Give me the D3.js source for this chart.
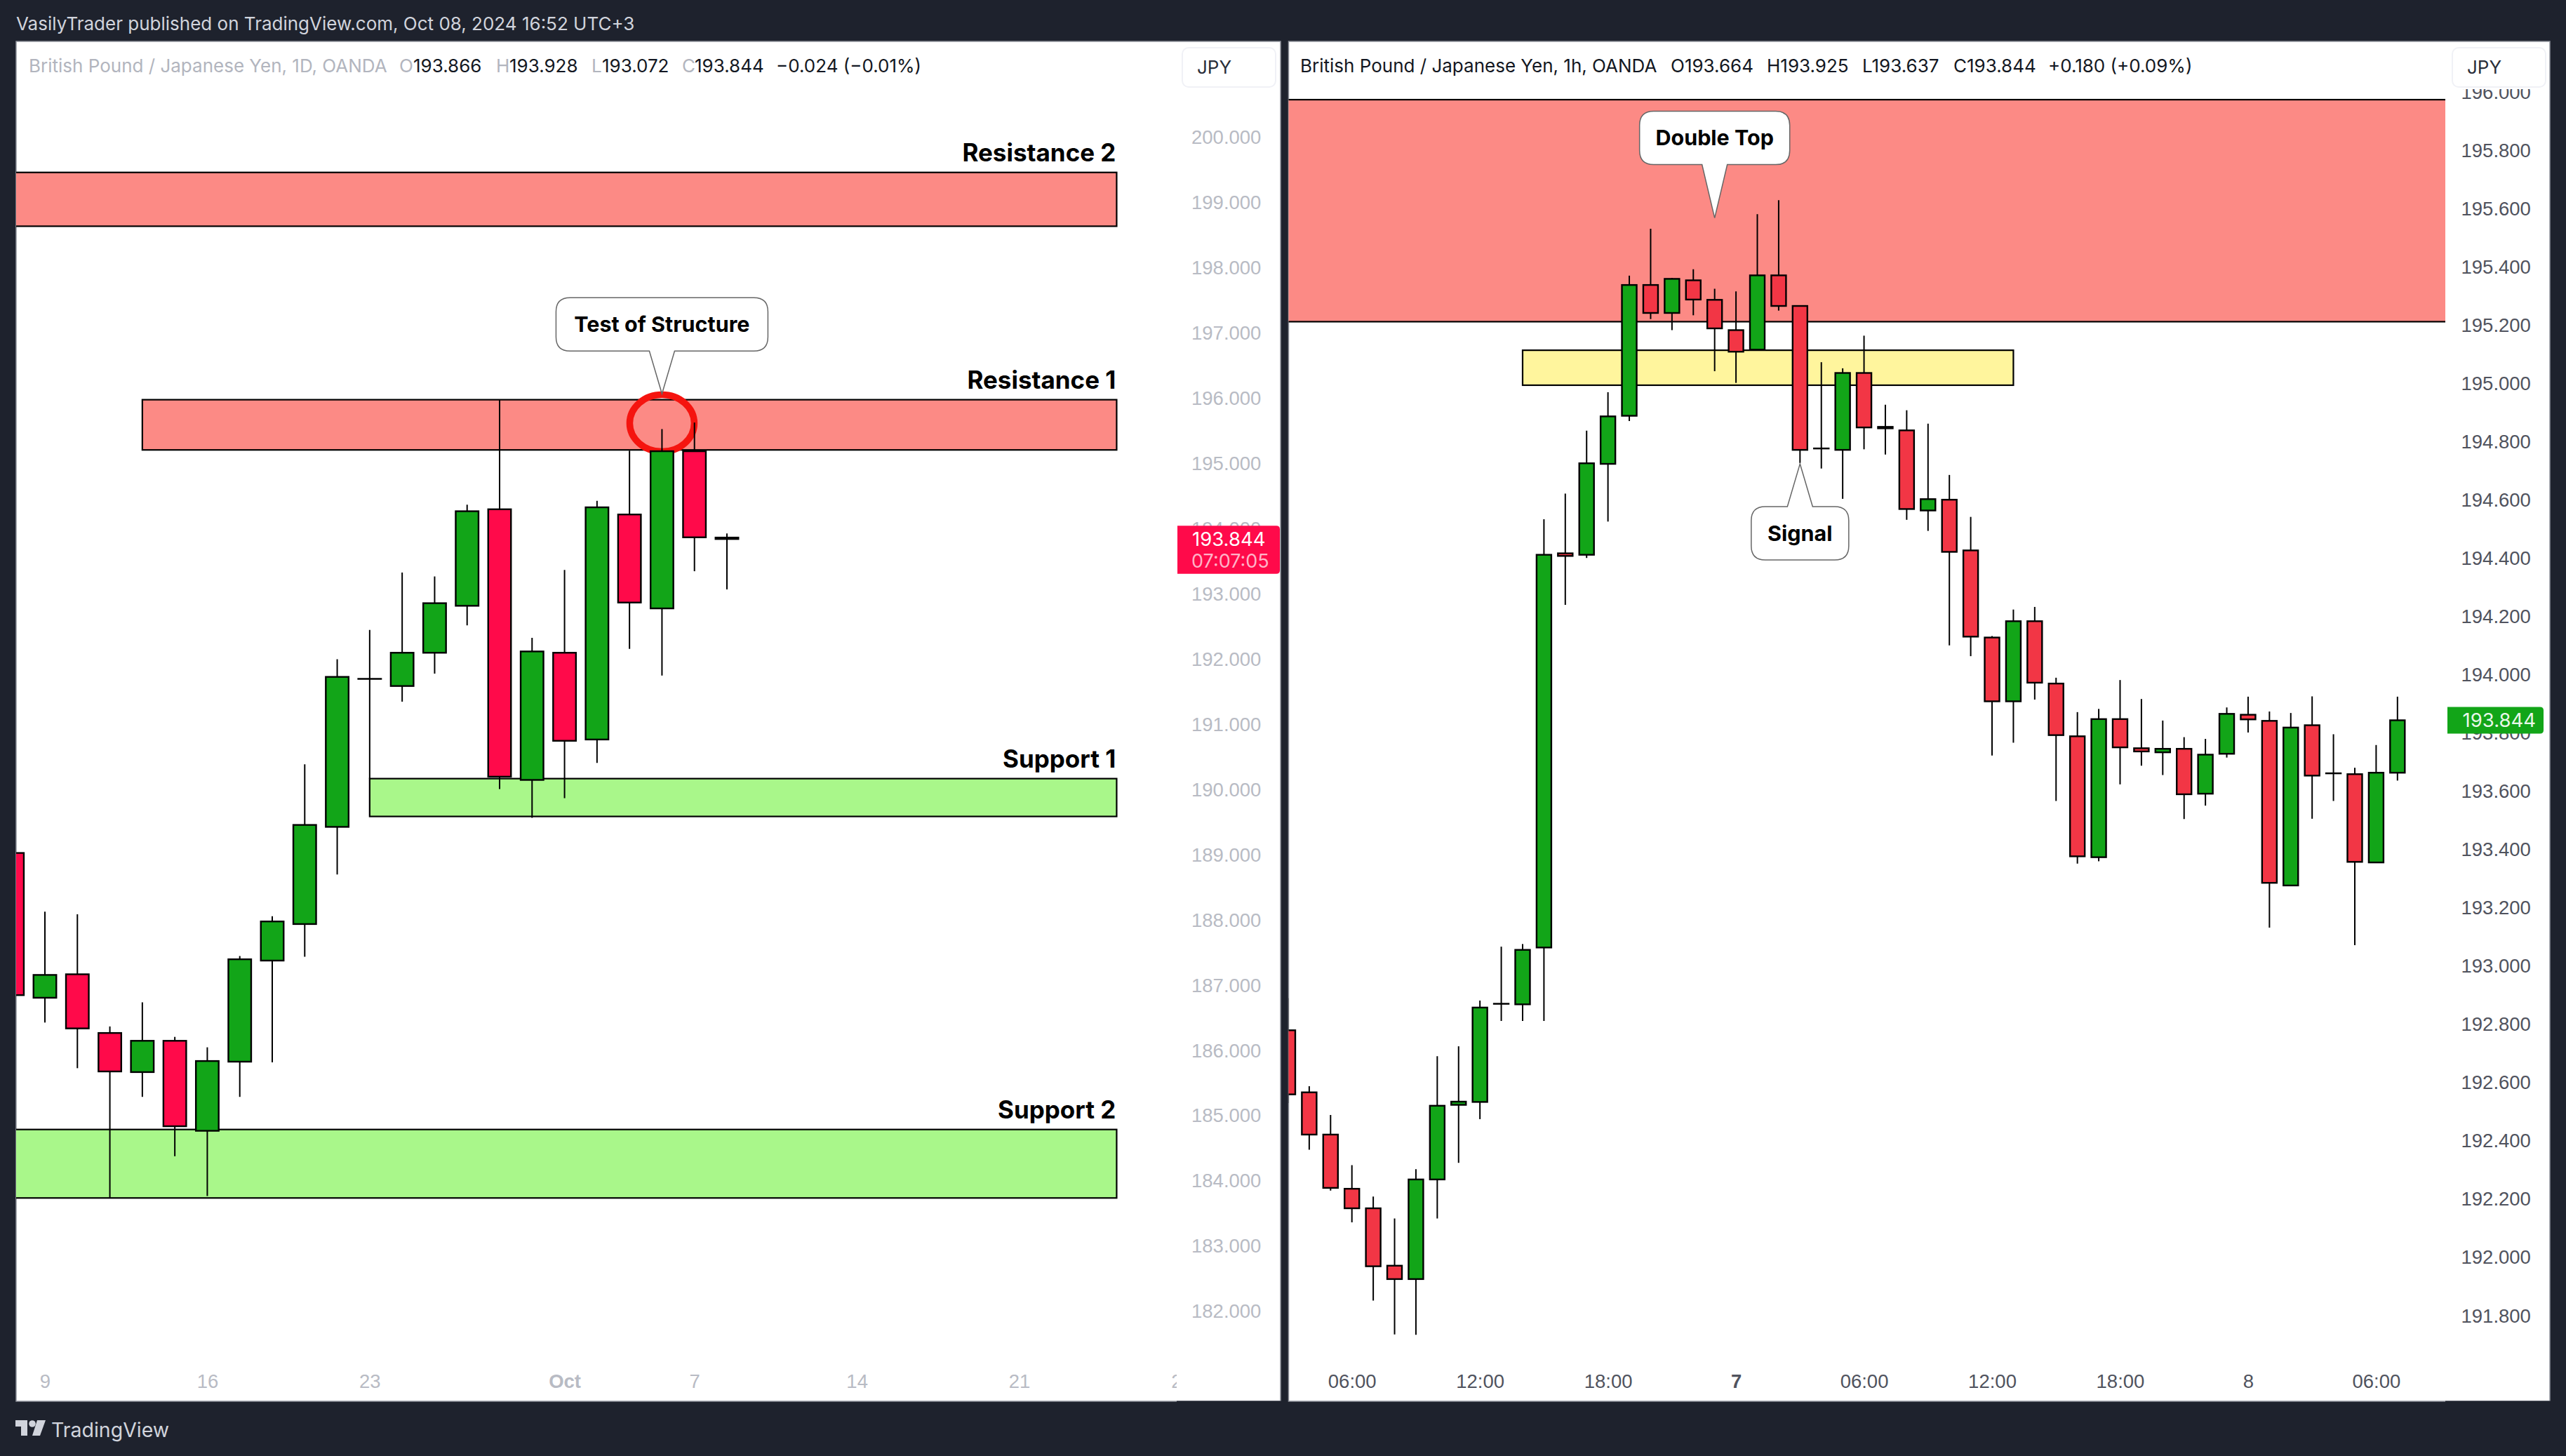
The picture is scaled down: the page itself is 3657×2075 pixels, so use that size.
<!DOCTYPE html>
<html>
<head>
<meta charset="utf-8">
<script src="https://cdn.jsdelivr.net/npm/d3@7"></script>
<style>
  html, body { margin: 0; padding: 0; background: #1e222d; overflow: hidden; }
  svg { display: block; font-family: Inter, "Noto Sans", sans-serif; }
</style>
</head>
<body>
<svg id="chart" width="3657" height="2075"></svg>
<script>
// Daily chart, session -1 is Sep 6, session 21 is Oct 8
const dailyOpen  = [189.03,186.81,187.17,186.27,185.67,186.15,184.77,185.83,187.38,187.94,189.43,191.70,191.59,192.10,192.82,194.30,190.15,192.10,190.77,194.22,192.78,195.19,193.866];
const dailyHigh  = [189.03,188.13,188.09,186.37,186.74,186.21,186.05,187.45,188.06,190.39,192.00,192.45,193.33,193.27,194.37,195.98,192.33,193.37,194.43,195.20,195.53,195.63,193.928];
const dailyLow   = [186.85,186.43,185.73,183.74,185.29,184.38,183.77,185.29,185.82,187.44,188.70,190.17,191.35,191.78,192.52,190.01,189.57,189.87,190.41,192.16,191.75,193.35,193.072];
const dailyClose = [186.85,187.16,186.34,185.68,186.15,184.84,185.84,187.40,187.98,189.46,191.73,191.70,192.10,192.86,194.27,190.20,192.12,190.75,194.33,192.87,195.19,193.87,193.844];

// Hourly chart, hour 0 is Oct 6 00:00, first candle is hour 3
const hourlyOpen  = [192.78,192.567,192.422,192.236,192.169,191.972,191.926,192.268,192.524,192.534,192.871,192.869,193.064,194.417,194.412,194.724,194.889,195.338,195.242,195.354,195.287,195.183,195.116,195.371,195.266,194.777,194.772,195.036,194.851,194.839,194.564,194.601,194.427,194.128,193.909,194.184,193.97,193.789,193.374,193.848,193.748,193.734,193.746,193.592,193.729,193.863,193.842,193.277,193.827,193.662,193.659,193.356,193.664];
const hourlyHigh  = [192.89,192.588,192.489,192.317,192.209,192.134,192.303,192.691,192.725,192.882,193.067,193.076,194.534,194.622,194.838,194.97,195.37,195.531,195.362,195.392,195.325,195.316,195.581,195.629,195.266,195.073,195.052,195.164,194.927,194.908,194.862,194.686,194.542,194.133,194.224,194.233,193.99,193.872,193.883,193.982,193.917,193.843,193.786,193.78,193.888,193.925,193.874,193.869,193.926,193.796,193.681,193.759,193.925];
const hourlyLow   = [192.53,192.37,192.23,192.121,191.852,191.736,191.735,192.134,192.325,192.475,192.812,192.812,192.812,194.24,194.401,194.526,194.871,195.221,195.183,195.234,195.042,195.002,195.116,195.25,194.727,194.708,194.604,194.774,194.756,194.532,194.494,194.101,194.064,193.723,193.767,193.915,193.567,193.352,193.36,193.624,193.688,193.656,193.505,193.551,193.716,193.802,193.132,193.277,193.506,193.567,193.072,193.356,193.637];
const hourlyClose = [192.56,192.422,192.239,192.169,191.97,191.926,192.268,192.521,192.535,192.858,192.871,193.056,194.412,194.408,194.726,194.887,195.338,195.242,195.359,195.288,195.189,195.109,195.371,195.266,194.772,194.777,195.036,194.849,194.846,194.569,194.603,194.422,194.131,193.909,194.184,193.973,193.793,193.377,193.848,193.751,193.737,193.746,193.59,193.726,193.866,193.847,193.286,193.819,193.654,193.662,193.358,193.664,193.844];

const dailyTicks = [182,183,184,185,186,187,188,189,190,191,192,193,194,195,196,197,198,199,200];
const hourlyTicks = [191.8,192,192.2,192.4,192.6,192.8,193,193.2,193.4,193.6,193.8,194,194.2,194.4,194.6,194.8,195,195.2,195.4,195.6,195.8,196];

const dailyDateTicks = [0,5,10,16,20,25,30,35];
const dailyDateLabels = ["9","16","23","Oct","7","14","21","28"];
const hourlyDateTicks = [6,12,18,24,30,36,42,48,54];
const hourlyDateLabels = ["06:00","12:00","18:00","7","06:00","12:00","18:00","8","06:00"];

// Zones: price top / bottom, first and last session
const dailyZoneNames = ["Resistance 2","Resistance 1","Support 1","Support 2"];
const dailyZoneTop = [199.465,195.98,190.17,184.79];
const dailyZoneBottom = [198.64,195.21,189.59,183.74];
const dailyZoneStart = [-5,3,10,-5];
const dailyZoneEnd = [33,33,33,33];
const dailyZoneFill = ["#fc8a85","#fc8a85","#a9f78a","#a9f78a"];

const hourlyZoneTop = [195.974,195.114];
const hourlyZoneBottom = [195.212,194.994];
const hourlyZoneStart = [-5,14];
const hourlyZoneEnd = [70,37];
const hourlyZoneFill = ["#fc8a85","#fff59d"];

const svg = d3.select("#chart");

const darkBg = "#1e222d";
const frameTop = 59, frameBottom = 1997;

const panels = [
  {
    name: "daily", left: 23, right: 1825, plotRight: 1677,
    open: dailyOpen, high: dailyHigh, low: dailyLow, close: dailyClose, firstIndex: -1,
    x: d3.scaleLinear().domain([0, 21]).range([64, 1036]),
    y: d3.scaleLinear().domain([200, 182]).range([196, 1869]),
    up: "#12a518", down: "#ff0a4a", bodyW: 32.5,
    ticks: dailyTicks, dateTicks: dailyDateTicks, dateLabels: dailyDateLabels,
    axisColor: "#b8bbc4", axisX: 1698, boldDate: "Oct",
    zones: {top: dailyZoneTop, bottom: dailyZoneBottom, start: dailyZoneStart, end: dailyZoneEnd, fill: dailyZoneFill}
  },
  {
    name: "hourly", left: 1836.5, right: 3634, plotRight: 3485,
    open: hourlyOpen, high: hourlyHigh, low: hourlyLow, close: hourlyClose, firstIndex: 3,
    x: d3.scaleLinear().domain([6, 54]).range([1926.7, 3386.4]),
    y: d3.scaleLinear().domain([194, 191.8]).range([961.7, 1875.2]),
    up: "#12a518", down: "#f23645", bodyW: 21,
    ticks: hourlyTicks, dateTicks: hourlyDateTicks, dateLabels: hourlyDateLabels,
    axisColor: "#50535e", axisX: 3507.5, boldDate: "7",
    zones: {top: hourlyZoneTop, bottom: hourlyZoneBottom, start: hourlyZoneStart, end: hourlyZoneEnd, fill: hourlyZoneFill}
  }
];

const defs = svg.append("defs");

panels.forEach(p => {
  // white frame with its thin grey edge
  svg.append("rect")
    .attr("x", p.left).attr("y", frameTop)
    .attr("width", p.right - p.left).attr("height", frameBottom - frameTop)
    .attr("fill", "#fff")
    .attr("stroke", "#8f929b")
    .attr("stroke-width", 1.5);
  // price scale part has no grey edge at the bottom
  svg.append("rect")
    .attr("x", p.plotRight).attr("y", frameBottom - 0.5)
    .attr("width", p.right - p.plotRight + 1).attr("height", 2)
    .attr("fill", darkBg);

  defs.append("clipPath").attr("id", "plot-" + p.name).append("rect")
    .attr("x", p.left).attr("y", frameTop)
    .attr("width", p.plotRight - p.left).attr("height", frameBottom - frameTop);

  defs.append("clipPath").attr("id", "scale-" + p.name).append("rect")
    .attr("x", p.plotRight).attr("y", 127)
    .attr("width", p.right - p.plotRight).attr("height", frameBottom - 127);

  defs.append("clipPath").attr("id", "time-" + p.name).append("rect")
    .attr("x", p.left).attr("y", 1900)
    .attr("width", p.plotRight - p.left).attr("height", frameBottom - 1900);

  // price axis
  const yAxis = d3.axisRight(p.y)
    .tickValues(p.ticks)
    .tickSize(0)
    .tickPadding(0)
    .tickFormat(d3.format(".3f"));

  const gy = svg.append("g")
    .attr("clip-path", `url(#scale-${p.name})`)
    .append("g")
    .attr("transform", `translate(${p.axisX},0)`)
    .attr("font-family", "Inter, sans-serif")
    .style("font-size", "27.5px")
    .style("color", p.axisColor)
    .call(yAxis);
  gy.select(".domain").remove();

  // time axis
  const xAxis = d3.axisBottom(p.x)
    .tickValues(p.dateTicks)
    .tickSize(0)
    .tickPadding(0)
    .tickFormat((d, i) => p.dateLabels[i]);

  const gx = svg.append("g")
    .attr("clip-path", `url(#time-${p.name})`)
    .append("g")
    .attr("transform", "translate(0,1958)")
    .attr("font-family", "Inter, sans-serif")
    .style("font-size", "27.5px")
    .style("color", p.axisColor)
    .call(xAxis);
  gx.select(".domain").remove();
  gx.selectAll(".tick text")
    .attr("font-weight", (d, i) => p.dateLabels[i] === p.boldDate ? 700 : 400);

  const plot = svg.append("g").attr("clip-path", `url(#plot-${p.name})`);

  // zones
  plot.append("g").selectAll("rect")
    .data(p.zones.top)
    .join("rect")
    .attr("x", (d, i) => p.x(p.zones.start[i]))
    .attr("width", (d, i) => p.x(p.zones.end[i]) - p.x(p.zones.start[i]))
    .attr("y", d => p.y(d))
    .attr("height", (d, i) => p.y(p.zones.bottom[i]) - p.y(d))
    .attr("fill", (d, i) => p.zones.fill[i])
    .attr("stroke", "#000")
    .attr("stroke-width", 2.2);

  // test of structure ring sits under the candles
  if (p.name === "daily") {
    plot.append("ellipse")
      .attr("cx", p.x(19)).attr("cy", p.y(195.62))
      .attr("rx", 46).attr("ry", 40.5)
      .attr("fill", "none")
      .attr("stroke", "#f5140f")
      .attr("stroke-width", 9.5);
  }

  // candles
  const candles = plot.append("g").selectAll("g")
    .data(p.open.map((d, i) => ({
      i: i + p.firstIndex, o: d, h: p.high[i], l: p.low[i], c: p.close[i]
    })))
    .join("g");

  candles.append("line")
    .attr("x1", d => p.x(d.i)).attr("x2", d => p.x(d.i))
    .attr("y1", d => p.y(d.h)).attr("y2", d => p.y(d.l))
    .attr("stroke", "#000").attr("stroke-width", 2);

  // a flat candle still has to draw its outline, so keep a hairline height
  candles.append("rect")
    .attr("x", d => p.x(d.i) - p.bodyW / 2)
    .attr("width", p.bodyW)
    .attr("y", d => p.y(Math.max(d.o, d.c)))
    .attr("height", d => Math.max(Math.abs(p.y(d.o) - p.y(d.c)), 0.1))
    .attr("fill", d => d.c >= d.o ? p.up : p.down)
    .attr("stroke", "#000")
    .attr("stroke-width", 2.4);
});

const daily = panels[0], hourly = panels[1];

// zone labels on the daily chart
svg.append("g").selectAll("text")
  .data(dailyZoneNames)
  .join("text")
  .attr("x", (d, i) => daily.x(dailyZoneEnd[i]) - 1)
  .attr("y", (d, i) => daily.y(dailyZoneTop[i]) - 16)
  .attr("text-anchor", "end")
  .attr("font-size", 35)
  .attr("font-weight", 700)
  .attr("fill", "#000")
  .text(d => d);

// callouts: tip position comes from the scales, box is hung from the tip
const calloutLabels = ["Test of Structure","Double Top","Signal"];
const calloutIndex = [19,23,27];
const calloutPrice = [196.07,195.568,194.724];
const calloutPanel = [daily,hourly,hourly];
const calloutWidth = [302,214,139];
const calloutDir = [-1,-1,1];

calloutLabels.forEach((label, i) => {
  const p = calloutPanel[i];
  const tx = p.x(calloutIndex[i]), ty = p.y(calloutPrice[i]);
  const w = calloutWidth[i], h = 76, r = 20, gap = 61, tail = 18, dir = calloutDir[i];
  const near = ty + dir * (i === 1 ? 76 : gap);
  const far = near + dir * h;
  const l = tx - w / 2, rt = tx + w / 2;
  const path = d3.path();
  path.moveTo(tx, ty);
  path.lineTo(tx + tail, near);
  path.lineTo(rt - r, near);
  path.quadraticCurveTo(rt, near, rt, near + dir * r);
  path.lineTo(rt, far - dir * r);
  path.quadraticCurveTo(rt, far, rt - r, far);
  path.lineTo(l + r, far);
  path.quadraticCurveTo(l, far, l, far - dir * r);
  path.lineTo(l, near + dir * r);
  path.quadraticCurveTo(l, near, l + r, near);
  path.lineTo(tx - tail, near);
  path.closePath();
  svg.append("path")
    .attr("d", path.toString())
    .attr("fill", "#fff")
    .attr("stroke", "#666")
    .attr("stroke-width", 1.5);
  svg.append("text")
    .attr("x", tx)
    .attr("y", (near + far) / 2)
    .attr("dy", "0.35em")
    .attr("text-anchor", "middle")
    .attr("font-size", 30.5)
    .attr("font-weight", 700)
    .attr("fill", "#000")
    .text(label);
});

// currency buttons
[[1685,133],[3495,133]].forEach(b => {
  svg.append("rect")
    .attr("x", b[0]).attr("y", 68).attr("width", b[1]).attr("height", 56)
    .attr("rx", 9)
    .attr("fill", "#fff").attr("stroke", "#f0f1f6").attr("stroke-width", 2);
  svg.append("text")
    .attr("x", b[0] + 21).attr("y", 96).attr("dy", "0.35em")
    .attr("font-size", 26).attr("fill", "#2a2e39")
    .text("JPY");
});

// tag with square left side and rounded right side
function tagPath(x0, x1, y0, y1) {
  const r = 5, path = d3.path();
  path.moveTo(x0, y0);
  path.lineTo(x1 - r, y0);
  path.quadraticCurveTo(x1, y0, x1, y0 + r);
  path.lineTo(x1, y1 - r);
  path.quadraticCurveTo(x1, y1, x1 - r, y1);
  path.lineTo(x0, y1);
  path.closePath();
  return path.toString();
}

// last price tags
const lastPrice = 193.844;
const tagGroup = svg.append("g");
tagGroup.append("path")
  .attr("d", tagPath(1678, 1824, daily.y(lastPrice) - 19, daily.y(lastPrice) + 49.5))
  .attr("fill", "#ff0a4a");
tagGroup.append("text")
  .attr("x", 1699).attr("y", daily.y(lastPrice)).attr("dy", "0.35em")
  .attr("font-size", 27.5).attr("fill", "#fff")
  .text(d3.format(".3f")(lastPrice));
tagGroup.append("text")
  .attr("x", 1698).attr("y", daily.y(lastPrice) + 31).attr("dy", "0.35em")
  .attr("font-size", 27).attr("fill", "#ffb3c7")
  .text("07:07:05");
tagGroup.append("path")
  .attr("d", tagPath(3488, 3625, hourly.y(lastPrice) - 19, hourly.y(lastPrice) + 19))
  .attr("fill", "#12a518");
tagGroup.append("text")
  .attr("x", 3614).attr("y", hourly.y(lastPrice)).attr("dy", "0.35em")
  .attr("text-anchor", "end")
  .attr("font-size", 27.5).attr("fill", "#e9f7e9")
  .text(d3.format(".3f")(lastPrice));

// legends
const leftLegend = [
  ["British Pound / Japanese Yen, 1D, OANDA", 41, "#b2b5be"],
  ["O", 569, "#b2b5be"], ["193.866", 589, "#131722"],
  ["H", 707, "#b2b5be"], ["193.928", 726, "#131722"],
  ["L", 843, "#b2b5be"], ["193.072", 858, "#131722"],
  ["C", 972, "#b2b5be"], ["193.844", 990, "#131722"],
  ["\u22120.024 (\u22120.01%)", 1106, "#131722"]
];
svg.append("g").selectAll("text")
  .data(leftLegend)
  .join("text")
  .attr("x", d => d[1]).attr("y", 94).attr("dy", "0.35em")
  .attr("font-size", 26)
  .attr("fill", d => d[2])
  .text(d => d[0]);

const rightLegend = [
  ["British Pound / Japanese Yen, 1h, OANDA", 1853],
  ["O193.664", 2381], ["H193.925", 2518], ["L193.637", 2654], ["C193.844", 2784],
  ["+0.180 (+0.09%)", 2919]
];
svg.append("g").selectAll("text")
  .data(rightLegend)
  .join("text")
  .attr("x", d => d[1]).attr("y", 94).attr("dy", "0.35em")
  .attr("font-size", 26)
  .attr("fill", "#131722")
  .text(d => d[0]);

// page header and footer
svg.append("text")
  .attr("x", 23).attr("y", 34).attr("dy", "0.35em")
  .attr("font-size", 26).attr("fill", "#d1d4dc")
  .text("VasilyTrader published on TradingView.com, Oct 08, 2024 16:52 UTC+3");

const logo = svg.append("g").attr("fill", "#d1d4dc");
logo.append("path").attr("d", "M22 2024H39V2046H30V2033H22Z");
logo.append("circle").attr("cx", 46).attr("cy", 2029).attr("r", 4.8);
logo.append("path").attr("d", "M53 2024H65L57 2046H46Z");
svg.append("text")
  .attr("x", 73).attr("y", 2038).attr("dy", "0.35em")
  .attr("font-size", 28.5).attr("fill", "#d1d4dc")
  .text("TradingView");
</script>
</body>
</html>
